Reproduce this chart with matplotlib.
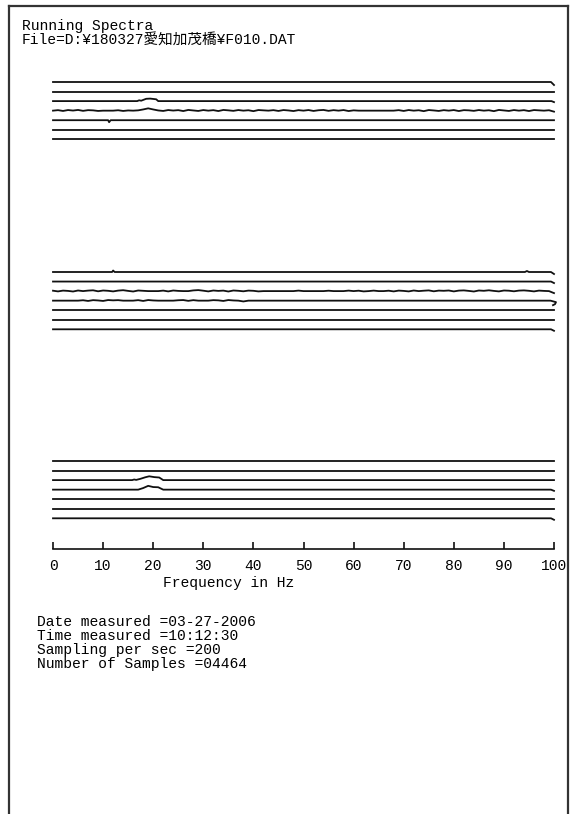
import numpy as np
import matplotlib.pyplot as plt
from matplotlib.lines import Line2D

# MS Gothic みたいな等幅フォント + 日本語フォールバック
plt.rcParams['font.family'] = ['Liberation Mono', 'Noto Sans CJK JP']

W, H = 574, 814

# ---- data ----
freq_ticks = [0, 10, 20, 30, 40, 50, 60, 70, 80, 90, 100]
tick_labels = ['0', '10', '20', '30', '40', '50', '60', '70', '80', '90', '100']

header_lines = ['Running Spectra', 'File=D:¥180327愛知加茂橋¥F010.DAT']
info_lines = ['Date measured =03-27-2006',
              'Time measured =10:12:30',
              'Sampling per sec =200',
              'Number of Samples =04464']

# amplitude = px above baseline
flat_f = [0, 100]
flat_a = [0, 0]
hook_f = [0, 99.4, 100]
hook_a = [0, 0, -3]
small_hook_a = [0, 0, -1.5]

# group 1
g1_t3_f = [0, 16.8, 17.2, 17.6, 18.6, 19.4, 20.6, 21.0, 99.5, 100]
g1_t3_a = [0, 0, 0.8, 0.4, 2.3, 2.5, 1.8, 0, 0, -1]
g1_t4_a = [0, .5, -.3, .6, .1, .7, -.2, .5, .3, -.3,
           0, 0, 0, .4, -.3, .2, 0, .3, 1.2, 2.3,
           1.2, .2, -.3, .6, .1, .5, -.4, .7, .2, -.3,
           .6, 0, .5, -.4, .7, .3, -.2, .6, 0, .4,
           -.5, .6, .3, 0, .5, -.3, .6, .2, -.4, .5,
           0, .6, -.3, .4, .7, -.2, .5, 0, .6, -.4,
           .3, 0, 0, 0, 0, 0, 0, 0, 0, .5,
           -.3, .6, 0, .4, -.5, .6, .2, -.3, .5, 0,
           .6, -.4, .5, .3, -.2, .6, 0, .4, -.5, .7,
           .2, -.3, .6, 0, .5, -.4, .6, .3, 0, .4,
           -1.0]
g1_t5_f = [0, 11.0, 11.2, 11.5, 100]
g1_t5_a = [0, 0, -2, 0, 0]

# group 2
g2_t1_f = [0, 11.8, 12.0, 12.3, 94.2, 94.6, 95.0, 99.4, 100]
g2_t1_a = [0, 0, 1.5, 0, 0, 1.0, 0, 0, -2]
g2_t3_a = [.4, -.3, .5, .2, -.4, .6, 0, .5, .8, -.2,
           .6, .3, -.3, .5, .9, .2, -.4, .6, .3, 0,
           0, 0, .5, -.3, .6, .2, 0, 0, .7, 1.0,
           .4, -.3, .6, .2, .5, -.4, .6, .3, -.2, .5,
           .3, -.3, 0, 0, 0, 0, 0, 0, 0, .5,
           0, 0, 0, 0, 0, .4, 0, 0, 0, .5,
           0, .4, -.3, 0, .5, 0, 0, .4, -.3, .5,
           .2, -.3, .6, 0, .4, .7, -.2, .5, .3, .6,
           -.3, .5, .7, .2, -.4, .6, .3, .8, .2, -.3,
           .6, .4, -.2, .5, .7, .3, -.3, .5, .2, 0,
           -2.0]
g2_t4_f = list(range(41)) + [99.3, 100.4, 100.2, 99.8]
g2_t4_a = [0, 0, 0, 0, 0, 0, .4, -.3, .5, .2,
           -.3, .6, .3, .5, 0, 0, 0, .5, -.3, .6,
           .2, 0, 0, 0, 0, .4, .6, -.2, .5, 0,
           0, 0, .5, .3, -.3, .6, .2, 0, -.8, 0,
           0, 0, -1.5, -3.5, -4.5]

# group 3
g3_t3_f = [0, 15.8, 16.2, 16.6, 17.4, 18.4, 19.2, 20.2, 21.2, 22.0, 100]
g3_t3_a = [0, 0, 0.6, 0.2, 1.2, 2.8, 3.8, 3.0, 2.6, 0, 0]
g3_t4_f = [0, 17.0, 18.0, 19.0, 20.0, 21.0, 22.0, 99.4, 100]
g3_t4_a = [0, 0, 1.6, 3.8, 2.6, 2.4, 0, 0, -1.2]

groups = [
    [(hook_f, hook_a), (flat_f, flat_a), (g1_t3_f, g1_t3_a),
     (np.linspace(0, 100, len(g1_t4_a)), g1_t4_a),
     (g1_t5_f, g1_t5_a), (flat_f, flat_a), (flat_f, flat_a)],
    [(g2_t1_f, g2_t1_a), (hook_f, small_hook_a),
     (np.linspace(0, 100, len(g2_t3_a)), g2_t3_a),
     (g2_t4_f, g2_t4_a), (flat_f, flat_a), (flat_f, flat_a),
     (hook_f, small_hook_a)],
    [(flat_f, flat_a), (flat_f, flat_a), (g3_t3_f, g3_t3_a),
     (g3_t4_f, g3_t4_a), (flat_f, flat_a), (flat_f, flat_a),
     (hook_f, small_hook_a)],
]

# ---- layout (px) ----
AX_L, AX_R = 53, 554
AX_T, AX_B = 70, 549
GROUP_TOP = [82, 272, 461]
SPACING = 9.55

fig = plt.figure(figsize=(W / 100, H / 100), dpi=100)
fig.patch.set_facecolor('white')

ax = fig.add_axes([AX_L / W, 1 - AX_B / H, (AX_R - AX_L) / W, (AX_B - AX_T) / H])
ax.set_xlim(0, 100)
ax.set_ylim(AX_B, AX_T)
ax.patch.set_alpha(0)

for g, traces in enumerate(groups):
    for k, (f, a) in enumerate(traces):
        base = GROUP_TOP[g] + k * SPACING
        ax.plot(f, base - np.asarray(a, dtype=float), color='#111111',
                lw=1.3, clip_on=False)

for s in ['top', 'left', 'right']:
    ax.spines[s].set_visible(False)
ax.spines['bottom'].set_linewidth(1.2)
ax.spines['bottom'].set_color('#111111')
ax.set_yticks([])
ax.set_xticks(freq_ticks)
ax.set_xticklabels(tick_labels, fontsize=10.5)
ax.tick_params(axis='x', direction='in', length=5, width=1.2,
               color='#111111', pad=7)

fig.text(163 / W, 1 - 583 / H, 'Frequency in Hz', fontsize=10.5, va='center')

# ヘッダーと測定情報
for i, s in enumerate(header_lines):
    fig.text(22 / W, 1 - (26 + i * 15) / H, s, fontsize=10.5, va='center')
for i, s in enumerate(info_lines):
    fig.text(37 / W, 1 - (622 + i * 14) / H, s, fontsize=10.5, va='center')

# ページ枠
frame = dict(transform=fig.transFigure, color='#333333', lw=1.6)
fig.add_artist(Line2D([9 / W, 9 / W], [0, 1 - 6 / H], **frame))
fig.add_artist(Line2D([9 / W, 568 / W], [1 - 6 / H, 1 - 6 / H], **frame))
fig.add_artist(Line2D([568 / W, 568 / W], [0, 1 - 6 / H], **frame))

fig.savefig('out.png', dpi=100)
